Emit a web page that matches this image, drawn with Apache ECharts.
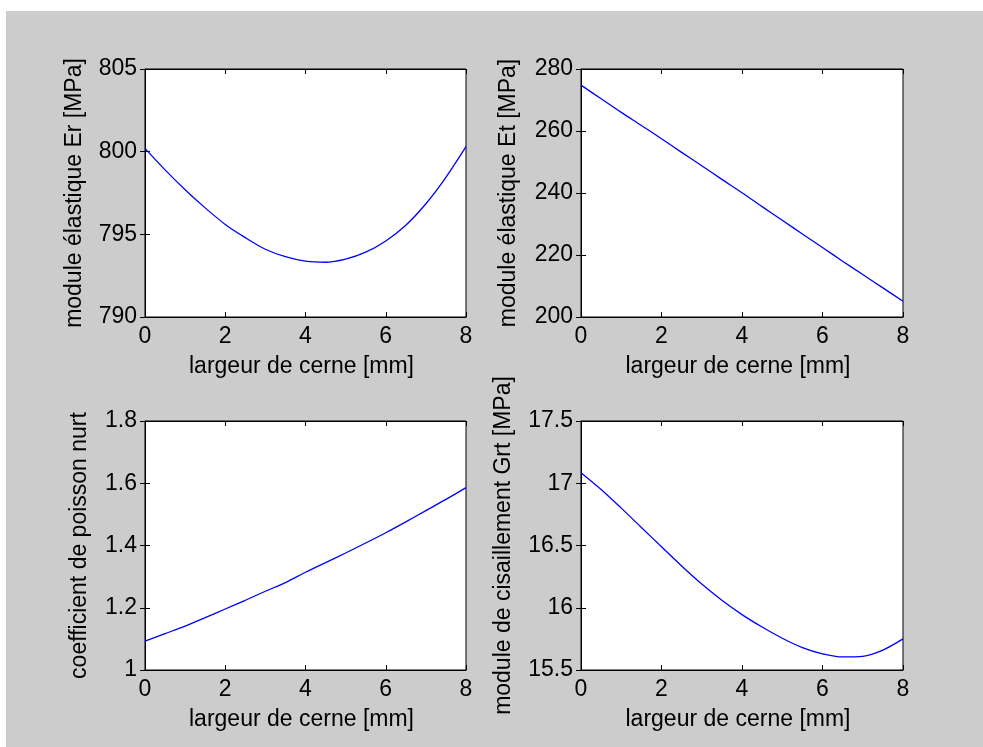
<!DOCTYPE html>
<html><head><meta charset="utf-8">
<script src="https://cdn.jsdelivr.net/npm/echarts@6/dist/echarts.min.js"></script>
<style>
html,body{margin:0;padding:0;background:#fff;width:983px;height:747px;overflow:hidden}
#bg{position:absolute;left:6px;top:11px;width:977px;height:736px;background:#cccccc}
#c{position:absolute;left:0;top:0;width:983px;height:747px}
</style></head><body>
<div id="bg"></div><div id="c"></div>
<script>
var xs = [0,0.5,1,1.5,2,2.5,3,3.5,4,4.5,5,5.5,6,6.5,7,7.5,8];
var er = [800.2,798.9,797.7,796.6,795.6,794.8,794.1,793.65,793.38,793.31,793.5,793.92,794.6,795.55,796.85,798.45,800.3];
var et = [274.8,270.4,266.0,261.8,257.5,253.1,248.8,244.4,240.1,235.6,231.2,226.8,222.4,218.0,213.7,209.4,205.1];
var nu = [1.093,1.117,1.141,1.168,1.196,1.224,1.253,1.281,1.314,1.345,1.376,1.408,1.441,1.476,1.512,1.548,1.586];
var grt = [17.085,16.95,16.8,16.645,16.49,16.335,16.19,16.06,15.945,15.845,15.755,15.68,15.63,15.605,15.61,15.66,15.75];

var xTicks = {min:0,max:8,interval:2};
var yRanges = [
  {min:790,max:805,interval:5},
  {min:200,max:280,interval:20},
  {min:1,max:1.8,interval:0.2},
  {min:15.5,max:17.5,interval:0.5}
];
var yNames = ['module élastique Er [MPa]','module élastique Et [MPa]','coefficient de poisson nurt','module de cisaillement Grt [MPa]'];
var xName = 'largeur de cerne [mm]';
var series = [er,et,nu,grt];

var FONT = 'Liberation Sans, Arial, sans-serif';
var FS = 23;
var grids = [
  {left:145,top:69,width:321,height:248},
  {left:581,top:69,width:322,height:248},
  {left:145,top:421,width:321,height:249},
  {left:581,top:421,width:322,height:249}
];
var yGaps = [59,61,54,66];

var opt = {animation:false, grid:[], xAxis:[], yAxis:[], series:[]};
var axLine = {show:true,lineStyle:{color:'#000',width:1}};
var tick = {show:true,inside:true,length:5,lineStyle:{color:'#000',width:1}};
grids.forEach(function(g,i){
  opt.grid.push({left:g.left,top:g.top,width:g.width,height:g.height,show:true,backgroundColor:'#fff',borderColor:'#000',borderWidth:1});
  opt.xAxis.push({type:'value',gridIndex:i,position:'bottom',min:xTicks.min,max:xTicks.max,interval:xTicks.interval,
    axisLine:axLine,axisTick:tick,splitLine:{show:false},
    axisLabel:{color:'#000',fontFamily:FONT,fontSize:FS,margin:8},
    name:xName,nameLocation:'middle',nameGap:38,
    nameTextStyle:{color:'#000',fontFamily:FONT,fontSize:FS,padding:[0,8,0,0]}});
  opt.xAxis.push({type:'value',gridIndex:i,position:'top',min:xTicks.min,max:xTicks.max,interval:xTicks.interval,
    axisLine:axLine,axisTick:tick,splitLine:{show:false},axisLabel:{show:false}});
  var r = yRanges[i];
  opt.yAxis.push({type:'value',gridIndex:i,position:'left',min:r.min,max:r.max,interval:r.interval,
    axisLine:axLine,axisTick:tick,splitLine:{show:false},
    axisLabel:{color:'#000',fontFamily:FONT,fontSize:FS,margin:8},
    name:yNames[i],nameLocation:'middle',nameGap:yGaps[i],
    nameTextStyle:{color:'#000',fontFamily:FONT,fontSize:FS}});
  opt.yAxis.push({type:'value',gridIndex:i,position:'right',min:r.min,max:r.max,interval:r.interval,
    axisLine:axLine,axisTick:tick,splitLine:{show:false},axisLabel:{show:false}});
  opt.series.push({type:'line',xAxisIndex:2*i,yAxisIndex:2*i,smooth:0.3,showSymbol:false,
    lineStyle:{color:'#0000ff',width:1.3},
    data:xs.map(function(x,k){return [x,series[i][k]];})});
});
var chart = echarts.init(document.getElementById('c'),null,{renderer:'canvas'});
chart.setOption(opt);
</script>
</body></html>
